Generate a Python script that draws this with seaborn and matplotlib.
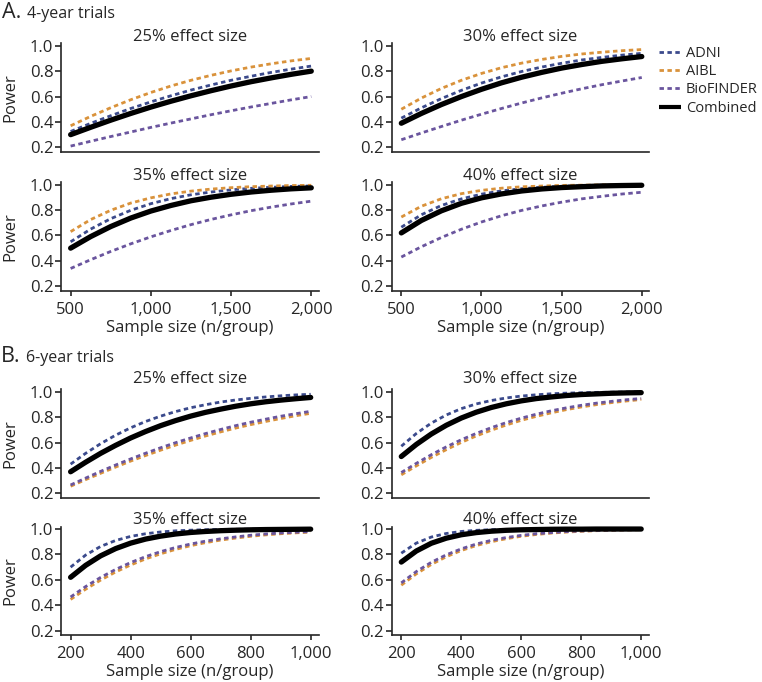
import matplotlib
matplotlib.use("Agg")
import matplotlib.pyplot as plt
import pandas as pd
import seaborn as sns
from matplotlib.lines import Line2D

sns.set_style("ticks")
plt.rcParams["font.family"] = ["Open Sans", "DejaVu Sans"]

# ---------------- data ----------------
cohorts = ["ADNI", "AIBL", "BioFINDER", "Combined"]
cohort_colors = ["#3B4A8C", "#D9923B", "#6A559E", "#000000"]
effect_titles = ["25% effect size", "30% effect size", "35% effect size", "40% effect size"]

n_4yr = [500, 625, 750, 875, 1000, 1125, 1250, 1375, 1500, 1625, 1750, 1875, 2000]
n_6yr = [200, 250, 300, 350, 400, 450, 500, 550, 600, 650, 700, 750, 800, 850, 900, 950, 1000]

# 4-year trials
p4_25_adni = [0.325, 0.389, 0.449, 0.506, 0.558, 0.606, 0.651, 0.691, 0.728, 0.760, 0.790, 0.816, 0.840]
p4_25_aibl = [0.370, 0.444, 0.512, 0.575, 0.632, 0.683, 0.728, 0.767, 0.802, 0.832, 0.858, 0.881, 0.900]
p4_25_bio = [0.210, 0.248, 0.285, 0.321, 0.357, 0.391, 0.424, 0.457, 0.488, 0.518, 0.546, 0.574, 0.600]
p4_25_comb = [0.300, 0.358, 0.414, 0.467, 0.517, 0.563, 0.606, 0.646, 0.683, 0.717, 0.747, 0.775, 0.800]

p4_30_adni = [0.430, 0.511, 0.584, 0.649, 0.706, 0.755, 0.797, 0.832, 0.862, 0.888, 0.908, 0.926, 0.940]
p4_30_aibl = [0.500, 0.588, 0.664, 0.728, 0.782, 0.827, 0.863, 0.892, 0.916, 0.935, 0.949, 0.961, 0.970]
p4_30_bio = [0.260, 0.313, 0.364, 0.414, 0.461, 0.506, 0.549, 0.589, 0.626, 0.661, 0.693, 0.722, 0.750]
p4_30_comb = [0.390, 0.467, 0.537, 0.600, 0.657, 0.708, 0.752, 0.790, 0.824, 0.852, 0.877, 0.897, 0.915]

p4_35_adni = [0.550, 0.650, 0.732, 0.798, 0.850, 0.890, 0.920, 0.942, 0.959, 0.971, 0.979, 0.986, 0.990]
p4_35_aibl = [0.630, 0.725, 0.798, 0.855, 0.896, 0.927, 0.949, 0.965, 0.976, 0.984, 0.989, 0.993, 0.995]
p4_35_bio = [0.340, 0.409, 0.474, 0.534, 0.589, 0.639, 0.685, 0.726, 0.762, 0.795, 0.823, 0.848, 0.870]
p4_35_comb = [0.500, 0.591, 0.670, 0.737, 0.792, 0.836, 0.873, 0.901, 0.924, 0.942, 0.956, 0.967, 0.975]

p4_40_adni = [0.665, 0.763, 0.836, 0.888, 0.925, 0.951, 0.968, 0.979, 0.987, 0.992, 0.995, 0.997, 0.998]
p4_40_aibl = [0.745, 0.830, 0.889, 0.929, 0.955, 0.972, 0.983, 0.989, 0.994, 0.996, 0.998, 0.999, 0.999]
p4_40_bio = [0.430, 0.511, 0.584, 0.649, 0.706, 0.755, 0.797, 0.832, 0.862, 0.888, 0.908, 0.926, 0.940]
p4_40_comb = [0.620, 0.718, 0.794, 0.853, 0.896, 0.927, 0.950, 0.966, 0.977, 0.984, 0.990, 0.993, 0.995]

# 6-year trials
p6_25_adni = [0.430, 0.515, 0.591, 0.658, 0.716, 0.766, 0.808, 0.844, 0.874, 0.898, 0.919, 0.935, 0.948, 0.959, 0.968, 0.975, 0.980]
p6_25_aibl = [0.256, 0.308, 0.358, 0.407, 0.454, 0.498, 0.540, 0.580, 0.617, 0.652, 0.684, 0.714, 0.741, 0.766, 0.789, 0.811, 0.830]
p6_25_bio = [0.266, 0.320, 0.373, 0.423, 0.471, 0.516, 0.559, 0.599, 0.636, 0.671, 0.703, 0.733, 0.760, 0.784, 0.807, 0.827, 0.846]
p6_25_comb = [0.370, 0.445, 0.515, 0.578, 0.636, 0.687, 0.733, 0.773, 0.808, 0.838, 0.863, 0.886, 0.905, 0.921, 0.934, 0.945, 0.955]

p6_30_adni = [0.571, 0.671, 0.753, 0.817, 0.867, 0.904, 0.931, 0.951, 0.966, 0.976, 0.984, 0.989, 0.992, 0.995, 0.996, 0.998, 0.998]
p6_30_aibl = [0.346, 0.416, 0.483, 0.544, 0.601, 0.652, 0.697, 0.738, 0.775, 0.806, 0.834, 0.859, 0.880, 0.898, 0.914, 0.927, 0.939]
p6_30_bio = [0.364, 0.436, 0.504, 0.566, 0.622, 0.672, 0.717, 0.757, 0.792, 0.823, 0.850, 0.873, 0.893, 0.910, 0.924, 0.937, 0.947]
p6_30_comb = [0.490, 0.585, 0.667, 0.736, 0.793, 0.839, 0.876, 0.905, 0.928, 0.946, 0.959, 0.970, 0.978, 0.983, 0.988, 0.991, 0.993]

p6_35_adni = [0.700, 0.795, 0.863, 0.910, 0.942, 0.963, 0.977, 0.986, 0.991, 0.995, 0.997, 0.998, 0.999, 0.999, 1.000, 1.000, 1.000]
p6_35_aibl = [0.446, 0.526, 0.598, 0.662, 0.717, 0.765, 0.805, 0.840, 0.869, 0.893, 0.913, 0.929, 0.943, 0.954, 0.963, 0.970, 0.976]
p6_35_bio = [0.465, 0.547, 0.619, 0.682, 0.736, 0.783, 0.822, 0.855, 0.882, 0.905, 0.923, 0.938, 0.951, 0.961, 0.969, 0.975, 0.980]
p6_35_comb = [0.620, 0.714, 0.789, 0.846, 0.889, 0.921, 0.944, 0.961, 0.973, 0.981, 0.987, 0.991, 0.994, 0.996, 0.997, 0.998, 0.999]

p6_40_adni = [0.810, 0.889, 0.937, 0.965, 0.981, 0.990, 0.995, 0.997, 0.998, 0.999, 1.000, 1.000, 1.000, 1.000, 1.000, 1.000, 1.000]
p6_40_aibl = [0.558, 0.647, 0.721, 0.782, 0.831, 0.870, 0.900, 0.924, 0.943, 0.957, 0.968, 0.976, 0.982, 0.987, 0.990, 0.993, 0.995]
p6_40_bio = [0.576, 0.665, 0.738, 0.797, 0.844, 0.882, 0.911, 0.933, 0.950, 0.963, 0.972, 0.980, 0.985, 0.989, 0.992, 0.994, 0.996]
p6_40_comb = [0.740, 0.827, 0.888, 0.928, 0.955, 0.972, 0.983, 0.990, 0.994, 0.996, 0.998, 0.999, 0.999, 1.000, 1.000, 1.000, 1.000]

y_ticks = [0.2, 0.4, 0.6, 0.8, 1.0]
y_tick_labels = ["0.2", "0.4", "0.6", "0.8", "1.0"]
x_ticks_4yr = [500, 1000, 1500, 2000]
x_tick_labels_4yr = ["500", "1,000", "1,500", "2,000"]
x_ticks_6yr = [200, 400, 600, 800, 1000]
x_tick_labels_6yr = ["200", "400", "600", "800", "1,000"]

panel_titles = ["A.", "B."]
panel_subtitles = ["4-year trials", "6-year trials"]
x_label = "Sample size (n/group)"
y_label = "Power"

series_4yr = [
    [p4_25_adni, p4_25_aibl, p4_25_bio, p4_25_comb],
    [p4_30_adni, p4_30_aibl, p4_30_bio, p4_30_comb],
    [p4_35_adni, p4_35_aibl, p4_35_bio, p4_35_comb],
    [p4_40_adni, p4_40_aibl, p4_40_bio, p4_40_comb],
]
series_6yr = [
    [p6_25_adni, p6_25_aibl, p6_25_bio, p6_25_comb],
    [p6_30_adni, p6_30_aibl, p6_30_bio, p6_30_comb],
    [p6_35_adni, p6_35_aibl, p6_35_bio, p6_35_comb],
    [p6_40_adni, p6_40_aibl, p6_40_bio, p6_40_comb],
]

# ---------------- figure ----------------
W, H = 762, 682
fig = plt.figure(figsize=(W / 100, H / 100), dpi=100)


def rect(x0, x1, ytop, ybot):
    return [x0 / W, 1 - ybot / H, (x1 - x0) / W, (ybot - ytop) / H]


def fx(px):
    return px / W


def fy(py):
    return 1 - py / H


palette = dict(zip(cohorts, cohort_colors))
dash_pat = (1.6, 1.25)
dashes = {"ADNI": dash_pat, "AIBL": dash_pat, "BioFINDER": dash_pat, "Combined": ""}
sizes = {"ADNI": 2.0, "AIBL": 2.0, "BioFINDER": 2.0, "Combined": 3.8}

col_x = [(61, 318.5), (391.7, 649)]
rows_A = [(43.2, 151.8, 41.0), (182.1, 290.7, 180.5)]
rows_B = [(389.2, 497.8, 383.5), (526.5, 635.1, 524.5)]

blocks = [
    (series_4yr, n_4yr, rows_A, (440, 2045), x_ticks_4yr, x_tick_labels_4yr, 332.5),
    (series_6yr, n_6yr, rows_B, (168, 1026), x_ticks_6yr, x_tick_labels_6yr, 676.5),
]

for series, nvals, rows, xlim, xt, xtl, xlab_base in blocks:
    for k in range(4):
        r, c = divmod(k, 2)
        top, bot, tbase = rows[r]
        x0, x1 = col_x[c]
        ax = fig.add_axes(rect(x0, x1, top, bot))
        recs = []
        for name, vals in zip(cohorts, series[k]):
            for n, p in zip(nvals, vals):
                recs.append({"n": n, "power": p, "cohort": name})
        df = pd.DataFrame(recs)
        sns.lineplot(
            data=df, x="n", y="power",
            hue="cohort", hue_order=cohorts, palette=palette,
            style="cohort", style_order=cohorts, dashes=dashes,
            size="cohort", size_order=cohorts, sizes=sizes,
            estimator=None, legend=False, ax=ax,
            solid_capstyle="round", dash_capstyle="butt", clip_on=False,
        )
        ax.set_xlim(*xlim)
        ax.set_ylim(0.165, 1.02)
        ax.set_yticks(y_ticks)
        ax.set_yticklabels(y_tick_labels)
        ax.set_xlabel("")
        ax.set_ylabel("")
        sns.despine(ax=ax)
        for s in ("left", "bottom"):
            ax.spines[s].set_linewidth(1.2)
        ax.tick_params(axis="y", length=4.0, width=1.2, pad=1.5, labelsize=12)
        if r == 0:
            ax.set_xticks([])
        else:
            ax.set_xticks(xt)
            ax.set_xticklabels(xtl)
            ax.tick_params(axis="x", length=3.6, width=1.2, pad=4.5, labelsize=12)
            fig.text(fx((x0 + x1) / 2), fy(xlab_base), x_label, ha="center",
                     va="baseline", fontsize=12)
        if c == 0:
            fig.text(fx(10.5), fy((top + bot) / 2), y_label, rotation=90,
                     ha="center", va="center", fontsize=12)
        fig.text(fx((x0 + x1) / 2), fy(tbase), effect_titles[k], ha="center",
                 va="baseline", fontsize=12)

# Panel headings
fig.text(fx(2), fy(18.5), panel_titles[0], fontsize=15.5, va="baseline", ha="left")
fig.text(fx(27), fy(18.5), panel_subtitles[0], fontsize=11.5, va="baseline", ha="left")
fig.text(fx(1), fy(361.7), panel_titles[1], fontsize=15.5, va="baseline", ha="left")
fig.text(fx(26), fy(361.7), panel_subtitles[1], fontsize=11.5, va="baseline", ha="left")

# Legend
handles = []
for name, col in zip(cohorts, cohort_colors):
    if name == "Combined":
        handles.append(Line2D([], [], color=col, lw=3.0, solid_capstyle="butt"))
    else:
        handles.append(Line2D([], [], color=col, lw=2.0, dashes=dash_pat,
                              dash_capstyle="butt"))
fig.legend(handles, cohorts, loc="upper left",
           bbox_to_anchor=(fx(659), fy(46)), frameon=False, fontsize=10.5,
           handlelength=1.5, handletextpad=0.35, labelspacing=0.22,
           borderpad=0, borderaxespad=0)

fig.savefig("out.png", dpi=100)
